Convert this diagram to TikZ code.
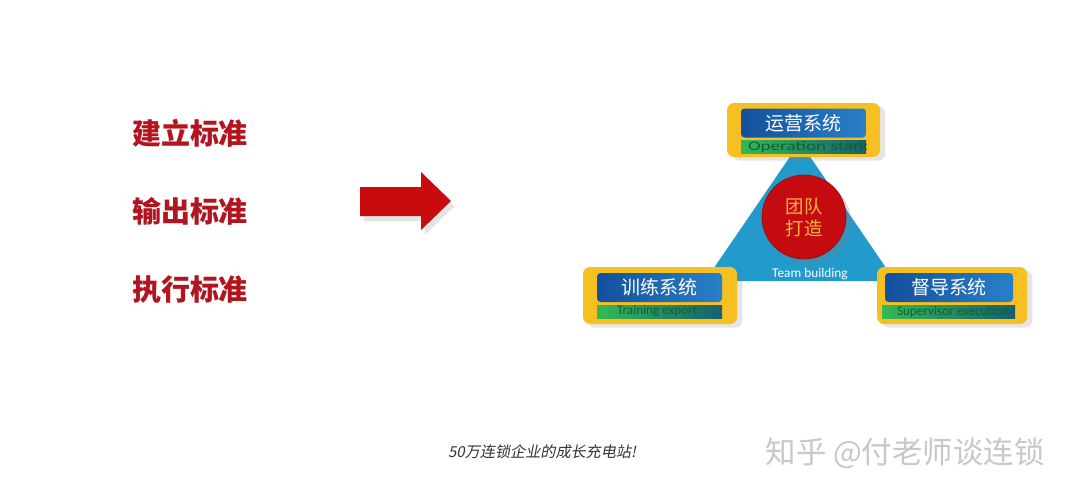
\documentclass[tikz,border=0pt]{standalone}
\usepackage{fontspec}
\setmainfont{Carlito}
\newfontfamily\cjk{Noto Sans CJK SC}
\newfontfamily\cjkslant[FakeSlant=0.2]{Noto Sans CJK SC}
\newfontfamily\widesans[FakeStretch=1.45]{Carlito}
\usetikzlibrary{calc,shadows}

\definecolor{stdred}{RGB}{178,20,32}
\definecolor{arrowred}{RGB}{200,12,14}
\definecolor{trisky}{RGB}{34,154,204}
\definecolor{boxgold}{RGB}{247,192,34}
\definecolor{boxblue}{RGB}{20,80,156}
\definecolor{boxbluel}{RGB}{40,128,200}
\definecolor{stripgreen}{RGB}{52,186,84}
\definecolor{stripteal}{RGB}{22,96,112}
\definecolor{striptext}{RGB}{18,96,50}
\definecolor{circred}{RGB}{196,12,16}
\definecolor{circtext}{RGB}{248,178,72}
\definecolor{marktext}{RGB}{200,200,200}

\newcommand{\pxu}{0.2mm}

\begin{document}
\begin{tikzpicture}[x=0.2mm,y=-0.2mm,
    stdtext/.style={font=\cjk\bfseries\fontsize{16.5}{18}\selectfont,text=stdred},
    goldbox/.style={rectangle,fill=boxgold,rounded corners=4pt,
      drop shadow={opacity=.2,shadow xshift=3pt,shadow yshift=-2pt}},
    bluebox/.style={rectangle,left color=boxblue,right color=boxbluel,rounded corners=2pt,
      minimum height=29*\pxu,text=white,font=\cjk\fontsize{10.8}{12}\selectfont,inner sep=0pt},
    greenstrip/.style={rectangle,left color=stripgreen,right color=stripteal,
      minimum height=13*\pxu,inner sep=0pt},
    striplabel/.style={anchor=west,text=striptext,font=\fontsize{7.5}{8}\selectfont,inner sep=0pt}]
  \useasboundingbox[fill=white] (0,0) rectangle (1080,497);

  % standards on the left
  \node[stdtext] (build) at (190,133) {建立标准};
  \node[stdtext] (output) at (190,211) {输出标准};
  \node[stdtext] (exec) at (190,290) {执行标准};

  % big arrow
  \fill[arrowred,drop shadow={opacity=.2,shadow xshift=2pt,shadow yshift=-3pt}]
    (360,187) -- (421,187) -- (421,172) -- (451,201) -- (421,230) -- (421,216) -- (360,216) -- cycle;

  % triangle and circle
  \coordinate (apex) at (800,142);
  \coordinate (bl) at (705,281);
  \coordinate (br) at (895,281);
  \fill[trisky] (apex) -- (br) -- (bl) -- cycle;
  \node[circle,fill=circred,draw=circred!80!black,minimum size=84*\pxu,inner sep=0pt,
    drop shadow={opacity=.25,shadow xshift=3pt,shadow yshift=-3pt},
    text=circtext,font=\cjk\fontsize{10.5}{12.5}\selectfont,align=center] (team) at (804,217) {团队\\打造};
  \node[text=white,font=\fontsize{7.6}{9}\selectfont] (teamen) at (810,274) {Team building};

  % operation box (top)
  \node[goldbox,minimum width=153*\pxu,minimum height=54*\pxu] (opg) at (803.5,130) {};
  \node[bluebox,minimum width=125*\pxu] (op) at (803.5,123) {运营系统};
  \node[greenstrip,minimum width=125*\pxu] (ops) at (803.5,146.5) {};
  \begin{scope}
    \clip (ops.south west) rectangle (ops.north east);
    \node[striplabel,font=\widesans\fontsize{7.5}{8}\selectfont] (opt)
      at ($(ops.west)+(7,0)$) {Operation standard};
  \end{scope}

  % training box (left)
  \node[goldbox,minimum width=154*\pxu,minimum height=57*\pxu] (trg) at (660,295.5) {};
  \node[bluebox,minimum width=125*\pxu] (tr) at (659.5,287.5) {训练系统};
  \node[greenstrip,minimum width=125*\pxu] (trs) at (659.5,311.5) {};
  \begin{scope}
    \clip (trs.south west) rectangle (trs.north east);
    \node[striplabel] (trt) at ($(trs.west)+(20,0)$) {Training export};
  \end{scope}

  % supervisor box (right)
  \node[goldbox,minimum width=150*\pxu,minimum height=57*\pxu] (sug) at (952,295.5) {};
  \node[bluebox,minimum width=128*\pxu] (su) at (949,287.5) {督导系统};
  \node[greenstrip,minimum width=133*\pxu] (sus) at (948.5,311.5) {};
  \begin{scope}
    \clip (sus.south west) rectangle (sus.north east);
    \node[striplabel] (sut) at ($(sus.west)+(15,0)$) {Supervisor execution};
  \end{scope}

  % footer
  \node[font=\cjkslant\fontsize{8.6}{10}\selectfont,text=black!80] (slogan) at (542,452) {50万连锁企业的成长充电站!};
  \node[font=\cjk\fontsize{17.3}{19}\selectfont,text=marktext] (mark) at (905,453) {知乎 @付老师谈连锁};
\end{tikzpicture}
\end{document}
